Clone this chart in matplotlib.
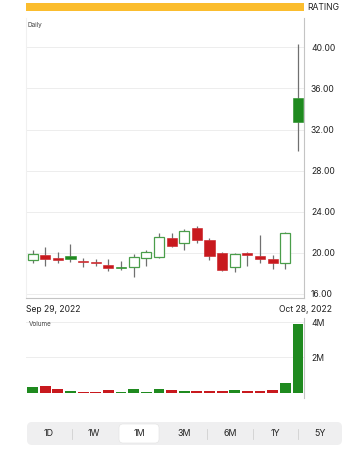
import matplotlib
matplotlib.use("Agg")
import matplotlib.pyplot as plt
from matplotlib.patches import FancyBboxPatch, Rectangle

plt.rcParams["font.family"] = ["Inter", "DejaVu Sans"]

# daily OHLC, Sep 29 .. Oct 28 2022
opens = [19.32, 19.83, 19.51, 19.71, 19.25, 19.13, 18.83, 18.66, 18.60, 19.51, 19.57,
         21.46, 20.93, 22.43, 21.26, 20.00, 18.64, 20.03, 19.71, 19.45, 19.03, 35.05]
highs = [20.29, 20.61, 20.13, 20.87, 19.51, 19.38, 19.42, 19.25, 19.90, 20.29, 21.94,
         21.94, 22.33, 22.65, 21.42, 20.06, 20.00, 20.06, 21.75, 19.81, 22.00, 40.29]
lows = [18.99, 18.77, 18.99, 19.09, 18.60, 18.74, 18.28, 18.35, 17.70, 18.77, 19.55,
        20.54, 20.29, 20.93, 19.32, 18.28, 18.12, 18.70, 18.99, 18.45, 18.45, 29.93]
closes = [19.90, 19.38, 19.32, 19.42, 19.09, 19.03, 18.54, 18.56, 19.57, 20.06, 21.58,
          20.71, 22.17, 21.26, 19.74, 18.38, 19.90, 19.81, 19.42, 19.03, 21.94, 32.78]
volumes = [0.30, 0.38, 0.19, 0.09, 0.06, 0.06, 0.13, 0.06, 0.21, 0.06, 0.19,
           0.15, 0.11, 0.08, 0.11, 0.11, 0.13, 0.09, 0.11, 0.15, 0.57, 3.88]  # millions

price_ticks = [16, 20, 24, 28, 32, 36, 40]
volume_ticks = [2, 4]
start_label = "Sep 29, 2022"
end_label = "Oct 28, 2022"
ranges = ["1D", "1W", "1M", "3M", "6M", "1Y", "5Y"]
selected_range = "1M"

GREEN = "#1f8a1f"
GREEN_EDGE = "#4a9e4a"
RED = "#c8191e"
WICK = "#707070"
GRID = "#ededed"
SPINE = "#c4c4c4"
TEXT = "#222222"


def main() -> None:
    fig = plt.figure(figsize=(3.58, 4.5), dpi=100)

    # background layer in pixel coords for the rating strip and range picker
    bg = fig.add_axes([0, 0, 1, 1], zorder=0)
    bg.set_xlim(0, 358)
    bg.set_ylim(450, 0)
    bg.axis("off")

    bg.add_patch(Rectangle((26, 3), 278, 8, color="#fbbd2e", lw=0))
    bg.text(307, 7, "RATING", fontsize=6.2, color=TEXT, va="center", ha="left")

    bg.add_patch(FancyBboxPatch((27, 422), 315, 23, boxstyle="round,pad=0,rounding_size=5",
                                fc="#efeff0", ec="none"))
    label_x = [49, 94, 139, 184, 230, 275, 320]
    for i, (name, x) in enumerate(zip(ranges, label_x)):
        if name == selected_range:
            bg.add_patch(FancyBboxPatch((x - 20, 424), 40, 19,
                                        boxstyle="round,pad=0,rounding_size=4",
                                        fc="white", ec="#e2e2e2", lw=0.4))
        bg.text(x, 434, name, fontsize=6.4, color=TEXT, ha="center", va="center")
    for i in range(len(ranges) - 1):
        if selected_range in (ranges[i], ranges[i + 1]):
            continue
        xm = (label_x[i] + label_x[i + 1]) / 2
        bg.plot([xm, xm], [429, 439], color="#d0d0d0", lw=0.6)

    # price panel
    ax = fig.add_axes([26 / 358, 1 - 298 / 450, 278 / 358, 280 / 450], zorder=1)
    ax.patch.set_alpha(0)
    n = len(closes)
    width = 0.8
    for i in range(n):
        o, h, l, c = opens[i], highs[i], lows[i], closes[i]
        prev = closes[i - 1] if i > 0 else o
        color = GREEN if c >= prev else RED
        lo_body, hi_body = min(o, c), max(o, c)
        ax.plot([i, i], [hi_body, h], color=WICK, lw=0.9, zorder=2, solid_capstyle="butt")
        ax.plot([i, i], [l, lo_body], color=WICK, lw=0.9, zorder=2, solid_capstyle="butt")
        if c > o:
            ax.add_patch(Rectangle((i - width / 2, lo_body), width, hi_body - lo_body,
                                   fc="white", ec=GREEN_EDGE, lw=0.9, zorder=3))
        else:
            ax.add_patch(Rectangle((i - width / 2, lo_body), width, max(hi_body - lo_body, 0.08),
                                   fc=color, ec=color, lw=0.4, zorder=3))

    ax.set_xlim(-0.52, n - 0.52)
    ax.set_ylim(15.61, 42.85)
    ax.set_yticks(price_ticks)
    ax.set_yticklabels([f"{t:.2f}" for t in price_ticks])
    ax.yaxis.tick_right()
    ax.tick_params(axis="y", length=0, pad=5, labelsize=6.2, labelcolor=TEXT)
    ax.set_xticks([])
    ax.grid(axis="y", color=GRID, lw=0.7)
    ax.set_axisbelow(True)
    for side in ("top",):
        ax.spines[side].set_visible(False)
    ax.spines["left"].set_color("#f0f0f0")
    ax.spines["right"].set_color(SPINE)
    ax.spines["bottom"].set_color(SPINE)
    for s in ("left", "right", "bottom"):
        ax.spines[s].set_linewidth(0.8)
    ax.text(0.004, 0.985, "Daily", transform=ax.transAxes, fontsize=4.6, color="#444444",
            ha="left", va="top")
    ax.text(0.0, -0.04, start_label, transform=ax.transAxes, fontsize=6.2, color=TEXT,
            ha="left", va="center")
    ax.text(1.1, -0.04, end_label, transform=ax.transAxes, fontsize=6.2, color=TEXT,
            ha="right", va="center")

    # volume panel
    vx = fig.add_axes([26 / 358, 1 - 398 / 450, 278 / 358, 80 / 450], zorder=1)
    vx.patch.set_alpha(0)
    vcolors = []
    for i in range(n):
        prev = closes[i - 1] if i > 0 else opens[i]
        vcolors.append(GREEN if closes[i] >= prev else RED)
    vx.bar(range(n), volumes, width=0.86, color=vcolors, zorder=3)
    vx.set_xlim(-0.52, n - 0.52)
    vx.set_ylim(-0.30, 4.24)
    vx.set_yticks(volume_ticks)
    vx.set_yticklabels([f"{t}M" for t in volume_ticks])
    vx.yaxis.tick_right()
    vx.tick_params(axis="y", length=0, pad=5, labelsize=6.2, labelcolor=TEXT)
    vx.set_xticks([])
    vx.grid(axis="y", color=GRID, lw=0.7)
    vx.set_axisbelow(True)
    for side in ("top", "left", "bottom"):
        vx.spines[side].set_visible(False)
    vx.spines["right"].set_color(SPINE)
    vx.spines["right"].set_linewidth(0.8)
    vx.text(0.01, 0.93, "Volume", transform=vx.transAxes, fontsize=4.6, color="#444444",
            ha="left", va="center")

    fig.savefig("out.png", dpi=100)
    plt.close(fig)


if __name__ == "__main__":
    main()
